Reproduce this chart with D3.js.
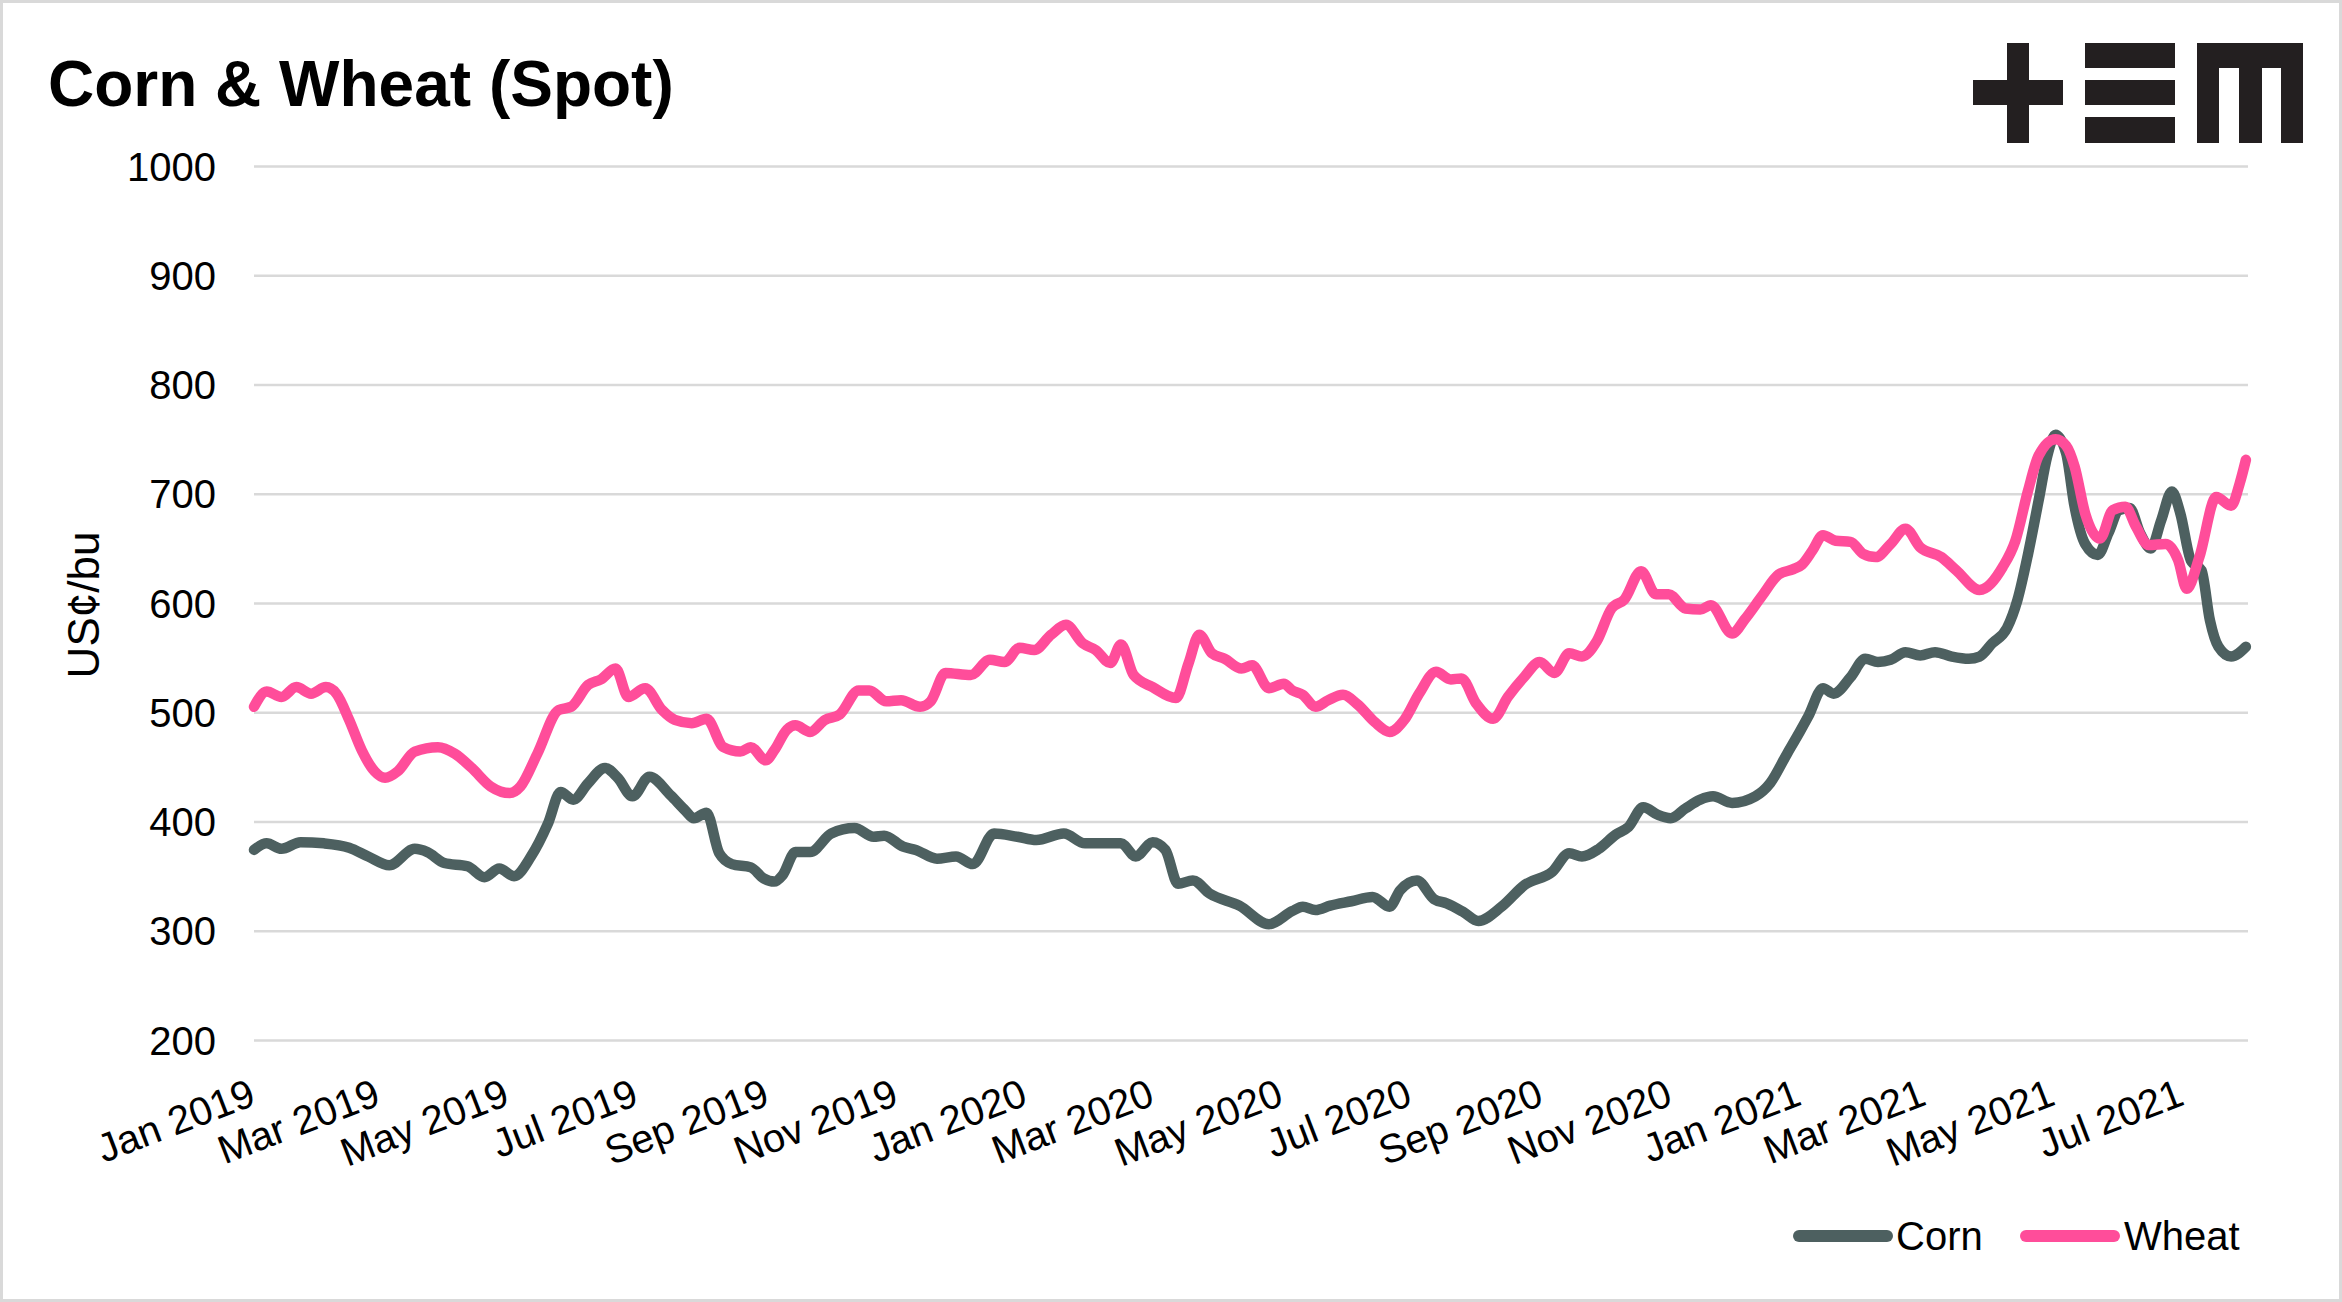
<!DOCTYPE html>
<html>
<head>
<meta charset="utf-8">
<script src="https://cdn.jsdelivr.net/npm/d3@7"></script>
<style>
  body { margin: 0; background: #fff; }
  text { font-family: "Liberation Sans", Arial, sans-serif; }
</style>
</head>
<body>
<svg id="chart" width="2342" height="1302"></svg>
<script>
// ---------------- DATA ----------------
const chartTitle = "Corn & Wheat (Spot)";
const yAxisTitle = "US¢/bu";
const seriesNames = ["Corn", "Wheat"];
const seriesColors = ["#4d6060", "#ff4d9a"];

const yTicks = [200, 300, 400, 500, 600, 700, 800, 900, 1000];
const xTickDates = ["2019-01-01","2019-03-01","2019-05-01","2019-07-01","2019-09-01","2019-11-01",
                    "2020-01-01","2020-03-01","2020-05-01","2020-07-01","2020-09-01","2020-11-01",
                    "2021-01-01","2021-03-01","2021-05-01","2021-07-01"];
const xTickLabels = ["Jan 2019","Mar 2019","May 2019","Jul 2019","Sep 2019","Nov 2019",
                     "Jan 2020","Mar 2020","May 2020","Jul 2020","Sep 2020","Nov 2020",
                     "Jan 2021","Mar 2021","May 2021","Jul 2021"];

const cornDates = [
 "2019-01-01","2019-01-07","2019-01-14","2019-01-23","2019-02-03","2019-02-15","2019-02-24","2019-03-06",
 "2019-03-18","2019-03-24","2019-04-01","2019-04-12","2019-04-20","2019-04-27","2019-05-04","2019-05-12",
 "2019-05-20","2019-05-26","2019-06-01","2019-06-08","2019-06-16","2019-06-22","2019-06-29","2019-07-07",
 "2019-07-17","2019-07-24","2019-07-28","2019-08-03","2019-08-09","2019-08-15","2019-08-24","2019-08-30",
 "2019-09-04","2019-09-08","2019-09-14","2019-09-21","2019-10-01","2019-10-12","2019-10-21","2019-10-26",
 "2019-11-04","2019-11-10","2019-11-20","2019-11-29","2019-12-07","2019-12-17","2019-12-28","2020-01-06",
 "2020-01-19","2020-01-29","2020-02-15","2020-02-22","2020-03-01","2020-03-07","2020-03-13","2020-03-20",
 "2020-03-28","2020-04-11","2020-04-25","2020-05-06","2020-05-11","2020-05-17","2020-05-24","2020-06-03",
 "2020-06-13","2020-06-21","2020-06-26","2020-07-04","2020-07-12","2020-07-18","2020-07-26","2020-08-02",
 "2020-08-13","2020-08-24","2020-09-06","2020-09-14","2020-09-20","2020-09-28","2020-10-06","2020-10-12",
 "2020-10-19","2020-10-26","2020-11-01","2020-11-08","2020-11-15","2020-11-21","2020-11-30","2020-12-11",
 "2020-12-18","2020-12-26","2021-01-01","2021-01-05","2021-01-12","2021-01-17","2021-01-25","2021-02-01",
 "2021-02-07","2021-02-13","2021-02-20","2021-02-27","2021-03-06","2021-03-14","2021-03-22","2021-03-27",
 "2021-04-02","2021-04-09","2021-04-14","2021-04-19","2021-04-24","2021-04-28","2021-05-02","2021-05-07",
 "2021-05-11","2021-05-16","2021-05-22","2021-05-27","2021-06-01","2021-06-06","2021-06-11","2021-06-16",
 "2021-06-21","2021-06-26","2021-06-30","2021-07-05","2021-07-10","2021-07-14","2021-07-18","2021-07-24",
 "2021-07-31"];
const cornValues = [
 374,380,375,381,380,376,368,360,
 375,372,362,359,349,357,350,368,
 398,427,420,435,449,440,423,441,
 424,410,403,408,371,361,358,348,
 345,351,372,372,389,394,386,387,
 377,374,366,368,361,389,386,383,
 389,380,380,368,381,374,343,346,
 334,323,306,318,322,319,323,327,
 331,322,337,346,329,325,317,309,
 322,342,354,371,368,375,388,395,
 413,406,403,412,420,423,417,423,
 435,462,482,496,522,517,532,549,
 546,548,555,552,555,551,549,551,
 563,577,603,645,694,734,754,737,
 688,654,644,664,685,687,664,650,
 676,702,682,639,630,584,560,551,
 560];

const wheatDates = [
 "2019-01-01","2019-01-07","2019-01-14","2019-01-21","2019-01-28","2019-02-04","2019-02-09","2019-02-15",
 "2019-02-21","2019-02-27","2019-03-04","2019-03-10","2019-03-18","2019-03-29","2019-04-06","2019-04-14",
 "2019-04-23","2019-05-02","2019-05-07","2019-05-15","2019-05-25","2019-05-31","2019-06-08","2019-06-14",
 "2019-06-21","2019-06-27","2019-07-05","2019-07-13","2019-07-19","2019-07-27","2019-08-03","2019-08-11",
 "2019-08-19","2019-08-24","2019-08-31","2019-09-04","2019-09-10","2019-09-14","2019-09-21","2019-09-28",
 "2019-10-05","2019-10-14","2019-10-19","2019-10-27","2019-11-03","2019-11-12","2019-11-17","2019-11-24",
 "2019-12-06","2019-12-15","2019-12-22","2019-12-29","2020-01-05","2020-01-13","2020-01-20","2020-01-28",
 "2020-02-03","2020-02-10","2020-02-15","2020-02-21","2020-03-01","2020-03-12","2020-03-18","2020-03-23",
 "2020-03-29","2020-04-04","2020-04-12","2020-04-17","2020-04-25","2020-05-02","2020-05-06","2020-05-11",
 "2020-05-17","2020-05-23","2020-05-30","2020-06-06","2020-06-14","2020-06-21","2020-06-28","2020-07-05",
 "2020-07-13","2020-07-20","2020-07-25","2020-08-01","2020-08-09","2020-08-16","2020-08-24","2020-08-31",
 "2020-09-07","2020-09-14","2020-09-20","2020-09-27","2020-10-04","2020-10-10","2020-10-18","2020-10-25",
 "2020-10-31","2020-11-08","2020-11-15","2020-11-20","2020-11-30","2020-12-06","2020-12-14","2020-12-22",
 "2020-12-29","2021-01-02","2021-01-07","2021-01-12","2021-01-18","2021-01-25","2021-01-31","2021-02-06",
 "2021-02-13","2021-02-20","2021-02-27","2021-03-09","2021-03-16","2021-03-27","2021-04-07","2021-04-13",
 "2021-04-19","2021-04-24","2021-05-02","2021-05-07","2021-05-11","2021-05-16","2021-05-23","2021-05-29",
 "2021-06-04","2021-06-09","2021-06-15","2021-06-23","2021-06-29","2021-07-03","2021-07-09","2021-07-17",
 "2021-07-24","2021-07-28","2021-07-31"];
const wheatValues = [
 505,519,514,523,517,523,517,493,
 465,446,440,446,464,468,462,449,
 432,426,432,462,502,505,525,530,
 540,514,522,502,493,490,494,468,
 464,468,456,465,484,488,482,493,
 498,520,520,510,511,505,510,536,
 534,548,546,559,557,571,580,563,
 557,545,562,534,523,513,545,571,
 554,549,540,543,522,526,520,516,
 505,511,516,507,491,482,493,517,
 537,530,531,508,494,514,533,546,
 536,554,551,565,595,603,629,608,
 608,595,594,598,572,585,606,626,
 631,635,648,662,657,656,645,642,
 654,668,651,642,630,612,633,657,
 703,735,750,744,725,682,659,685,
 688,670,653,654,639,613,642,697,
 689,709,731];

// ---------------- LAYOUT ----------------
const W = 2342, H = 1302;
const plot = { left: 254, right: 2248, top: 166, bottom: 1040 };
const parse = d3.timeParse("%Y-%m-%d");

const svg = d3.select("#chart");
svg.append("rect").attr("width", W).attr("height", H).attr("fill", "#fff");
svg.append("rect").attr("x", 1.5).attr("y", 1.5).attr("width", W - 3).attr("height", H - 3)
   .attr("fill", "none").attr("stroke", "#d9d9d9").attr("stroke-width", 3);

const x = d3.scaleTime()
  .domain([parse("2019-01-01"), parse("2021-08-01")])
  .range([plot.left, plot.right]);
const y = d3.scaleLinear().domain([200, 1000]).range([plot.bottom, plot.top]);

// gridlines
const grid = svg.append("g").attr("transform", `translate(${plot.left},0)`)
  .call(d3.axisLeft(y).tickValues(yTicks).tickSize(-(plot.right - plot.left)).tickFormat(""));
grid.select(".domain").remove();
grid.selectAll("line").attr("stroke", "#d9d9d9").attr("stroke-width", 2.5);

// y-axis labels
const yAxis = svg.append("g").attr("transform", `translate(${plot.left},0)`)
  .call(d3.axisLeft(y).tickValues(yTicks).tickSize(0).tickPadding(38).tickFormat(d3.format("d")));
yAxis.select(".domain").remove();
yAxis.selectAll("text").attr("font-size", 40).attr("fill", "#000")
  .attr("font-family", "'Liberation Sans', Arial, sans-serif").attr("dy", "0.35em");

// x-axis labels
const xAxis = svg.append("g").attr("transform", `translate(0,${plot.bottom})`)
  .call(d3.axisBottom(x).tickValues(xTickDates.map(parse)).tickSize(0)
        .tickFormat((d, i) => xTickLabels[i]));
xAxis.select(".domain").remove();
xAxis.selectAll("text")
  .attr("font-size", 40).attr("fill", "#000")
  .attr("font-family", "'Liberation Sans', Arial, sans-serif")
  .attr("text-anchor", "end")
  .attr("x", 0).attr("y", 0).attr("dy", 0)
  .attr("transform", "translate(3,64) rotate(-21)");

// y-axis title
svg.append("text")
  .attr("transform", `translate(99,${(plot.top + plot.bottom) / 2 + 2}) rotate(-90)`)
  .attr("text-anchor", "middle").attr("font-size", 44).attr("fill", "#000")
  .text(yAxisTitle);

// title
svg.append("text").attr("x", 48).attr("y", 106)
  .attr("font-size", 64).attr("font-weight", "bold").attr("fill", "#000")
  .text(chartTitle);

// lines
const line = d3.line().x(d => x(d.date)).y(d => y(d.value)).curve(d3.curveMonotoneX);
const cornData = cornDates.map((d, i) => ({ date: parse(d), value: cornValues[i] }));
const wheatData = wheatDates.map((d, i) => ({ date: parse(d), value: wheatValues[i] }));
[cornData, wheatData].forEach((data, i) => {
  svg.append("path").datum(data)
    .attr("fill", "none").attr("stroke", seriesColors[i])
    .attr("stroke-width", 10.5).attr("stroke-linejoin", "round").attr("stroke-linecap", "round")
    .attr("d", line);
});

// legend
const legendItems = [
  { x1: 1799, x2: 1887, tx: 1896 },
  { x1: 2026, x2: 2114, tx: 2124 }
];
legendItems.forEach((p, i) => {
  svg.append("line").attr("x1", p.x1).attr("x2", p.x2).attr("y1", 1236).attr("y2", 1236)
    .attr("stroke", seriesColors[i]).attr("stroke-width", 12).attr("stroke-linecap", "round");
  svg.append("text").attr("x", p.tx).attr("y", 1250).attr("font-size", 40).attr("fill", "#000")
    .text(seriesNames[i]);
});

// logo (+≡m)
const logo = svg.append("g").attr("fill", "#231f20");
[[1973, 80, 90, 25], [2007, 43, 22, 100],
 [2085, 43, 90, 25], [2085, 80, 90, 25], [2085, 117, 90, 26],
 [2197, 43, 106, 25], [2197, 43, 22, 100], [2239, 43, 23, 100], [2281, 43, 22, 100]]
 .forEach(r => logo.append("rect").attr("x", r[0]).attr("y", r[1]).attr("width", r[2]).attr("height", r[3]));
</script>
</body>
</html>
